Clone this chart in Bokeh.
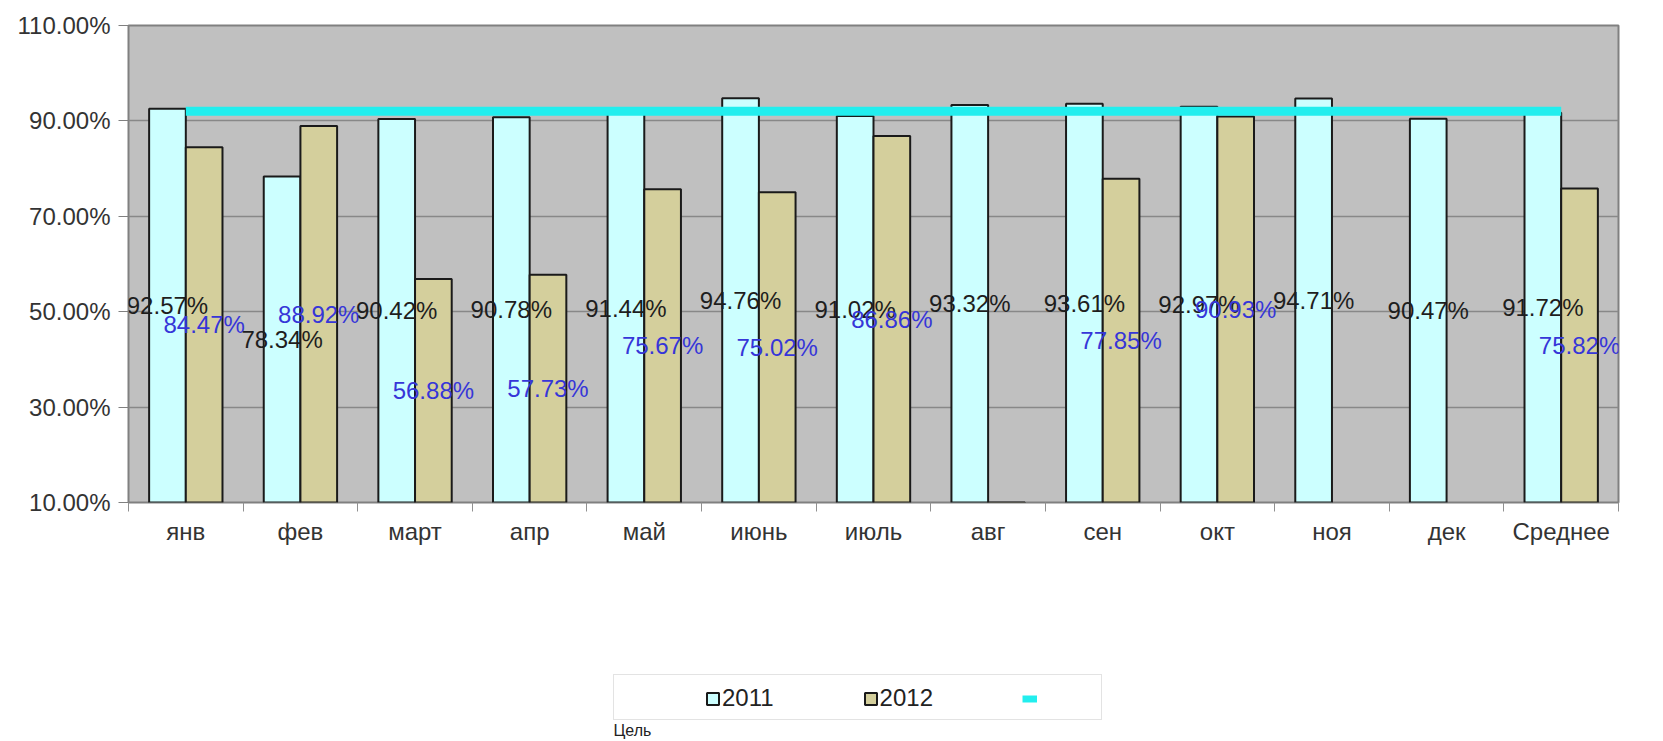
import numpy as np
from bokeh.plotting import figure
from bokeh.layouts import column
from bokeh.models import (ColumnDataSource, Range1d, FixedTicker, PrintfTickFormatter,
                          Legend, LegendItem, Label)
from bokeh.transform import dodge
from bokeh.core.properties import value
from bokeh.embed import file_html
from bokeh.resources import INLINE

# ---------------- data ----------------
months = ["янв", "фев", "март", "апр", "май", "июнь", "июль", "авг",
          "сен", "окт", "ноя", "дек", "Среднее"]
v2011 = [92.57, 78.34, 90.42, 90.78, 91.44, 94.76, 91.02, 93.32,
         93.61, 92.97, 94.71, 90.47, 91.72]
v2012 = [84.47, 88.92, 56.88, 57.73, 75.67, 75.02, 86.86, 0.0,
         77.85, 90.93, None, None, 75.82]
target = [92.0, 92.0, 92.0, 92.0, 92.0, 92.0, 92.0, 92.0,
          92.0, 92.0, 92.0, 92.0, 92.0]
y_ticks = [10, 30, 50, 70, 90, 110]
series_names = ["2011", "2012"]
target_name = "Цель"
Y_MIN, Y_MAX = 10, 110

FONT = "Liberation Sans"
C2011 = "#ccffff"
C2012 = "#d4cf9c"
CTARGET = "#22eeee"
OUTLINE = "#1a1a1a"

def nan(v):
    return np.nan if v is None else float(v)

y11 = np.array([nan(v) for v in v2011])
y12 = np.array([nan(v) for v in v2012])

def mid(arr):
    return np.where(arr > Y_MIN, (Y_MIN + arr) / 2.0, np.nan)

def txt(arr):
    return ["" if (np.isnan(v) or v <= Y_MIN) else f"{v:.2f}%" for v in arr]

src = ColumnDataSource(dict(
    x=np.arange(len(months)),
    y2011=y11, y2012=y12, target=target,
    m2011=mid(y11), m2012=mid(y12),
    t2011=txt(y11), t2012=txt(y12),
))

W = 1660
H_MAIN, H_LEG = 560, 180

p = figure(width=W, height=H_MAIN,
           x_range=Range1d(-0.5, len(months) - 0.5),
           y_range=Range1d(Y_MIN, Y_MAX),
           output_backend="svg", toolbar_location=None,
           min_border_left=128, min_border_right=42,
           min_border_top=25, min_border_bottom=58,
           background_fill_color="#c0c0c0", border_fill_color="white",
           outline_line_color="#808080", outline_line_width=2)

# bars
p.vbar(x=dodge("x", -0.16, range=p.x_range), top="y2011", bottom=Y_MIN,
       width=0.32, source=src, fill_color=C2011,
       line_color=OUTLINE, line_width=2)
p.vbar(x=dodge("x", 0.16, range=p.x_range), top="y2012", bottom=Y_MIN,
       width=0.32, source=src, fill_color=C2012,
       line_color=OUTLINE, line_width=2)

# target line
p.line(x="x", y="target", source=src, line_color=CTARGET, line_width=9)

# data labels
p.text(x=dodge("x", -0.16, range=p.x_range), y="m2011", text="t2011", source=src,
       text_align="center", text_baseline="middle",
       text_font=value(FONT), text_font_size="24px", text_color="#1e1e1e")
p.text(x=dodge("x", 0.16, range=p.x_range), y="m2012", text="t2012", source=src,
       text_align="center", text_baseline="middle",
       text_font=value(FONT), text_font_size="24px", text_color="#3636d8")

# axes
p.xaxis.ticker = FixedTicker(ticks=list(range(len(months))),
                             minor_ticks=list(np.arange(len(months) + 1) - 0.5))
p.xaxis.major_label_overrides = {i: m for i, m in enumerate(months)}
p.xaxis.major_tick_line_alpha = 0
p.xaxis.major_tick_out = 8
p.xaxis.major_tick_in = 0
p.xaxis.minor_tick_out = 9
p.xaxis.minor_tick_in = 0
p.xaxis.minor_tick_line_color = "#909090"
p.xaxis.minor_tick_line_width = 1
p.xaxis.axis_line_color = None
p.xaxis.major_label_standoff = 6

p.yaxis.ticker = FixedTicker(ticks=y_ticks, minor_ticks=[])
p.yaxis.formatter = PrintfTickFormatter(format="%.2f%%")
p.yaxis.major_tick_out = 10
p.yaxis.major_tick_in = 0
p.yaxis.major_tick_line_color = "#808080"
p.yaxis.axis_line_color = None
p.yaxis.major_label_standoff = 8

for ax in (p.xaxis[0], p.yaxis[0]):
    ax.major_label_text_font = FONT
    ax.major_label_text_font_size = "24px"
    ax.major_label_text_color = "#333333"

p.xgrid.visible = False
p.ygrid.ticker = FixedTicker(ticks=y_ticks, minor_ticks=[])
p.ygrid.grid_line_color = "#888888"
p.ygrid.grid_line_width = 1.5

# ---------------- legend strip (frame aligned with the chart frame) ----------------
q = figure(width=W, height=H_LEG, x_range=Range1d(0, 1), y_range=Range1d(0, 1),
           x_axis_type=None, y_axis_type=None,
           output_backend="svg", toolbar_location=None,
           min_border_left=128, min_border_right=42,
           min_border_top=0, min_border_bottom=0,
           outline_line_color=None, background_fill_color="white",
           border_fill_color="white")
q.xgrid.visible = False
q.ygrid.visible = False

# legend proxies: same styles, a single undefined (NaN) row so nothing is drawn
proxy = ColumnDataSource(dict(x=[np.nan], y=[np.nan]))
g11 = q.vbar(x="x", top="y", width=0.3, source=proxy, fill_color=C2011,
             line_color=OUTLINE, line_width=2)
g12 = q.vbar(x="x", top="y", width=0.3, source=proxy, fill_color=C2012,
             line_color=OUTLINE, line_width=2)
gl = q.line(x="x", y="y", source=proxy, line_color=CTARGET, line_width=7)
gd = q.scatter(x="x", y="y", source=proxy, size=1, fill_alpha=0, line_alpha=0)

box = Legend(items=[LegendItem(label=" ", renderers=[gd])],
             location=(485, 20), padding=0, margin=0,
             glyph_width=1, glyph_height=1, label_standoff=0,
             label_width=486, label_height=44,
             border_line_color="#c8c8c8", border_line_width=1.5,
             background_fill_color="white", background_fill_alpha=1)
q.add_layout(box)

leg = Legend(items=[LegendItem(label=series_names[0], renderers=[g11]),
                    LegendItem(label=series_names[1], renderers=[g12]),
                    LegendItem(label=" ", renderers=[gl])],
             orientation="horizontal", location=(577, 28),
             padding=0, margin=0, spacing=89,
             glyph_width=15, glyph_height=15, label_standoff=2,
             label_height=28,
             label_text_font=FONT, label_text_font_size="24px",
             label_text_color="#222222",
             border_line_alpha=0, background_fill_alpha=0)
q.add_layout(leg)

q.add_layout(Label(x=485, y=19, x_units="screen", y_units="screen",
                   text=target_name, text_font=FONT, text_font_size="16px",
                   text_color="#222222", text_baseline="top"))

layout = column(p, q, spacing=0)
open("out.html", "w").write(file_html(layout, INLINE))
